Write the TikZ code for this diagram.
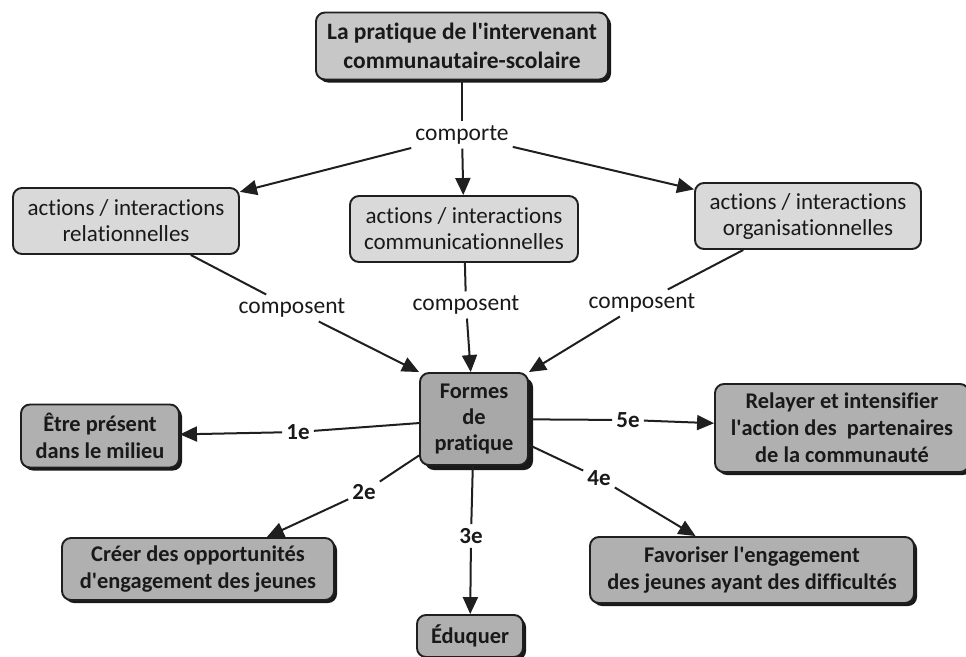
\documentclass[tikz,border=0pt]{standalone}
\usepackage{fontspec}
\setmainfont{Carlito}[Ligatures=NoCommon]
\usetikzlibrary{arrows.meta,shadows}
\newcommand{\apos}{\textquotesingle}
\begin{document}
\begin{tikzpicture}[x=1pt,y=-1pt,
  base/.style={draw=black!88, line width=1.9pt, rounded corners=9pt, align=center, inner sep=2pt, text=black!90, font=\fontsize{23}{26}\selectfont},
  lvltwo/.style={base, fill=black!15},
  lvltop/.style={base, fill=black!22, font=\fontsize{23.5}{29}\selectfont\bfseries,
    drop shadow={shadow xshift=3pt, shadow yshift=-3pt, fill=black!90, opacity=1}},
  lvlthree/.style={base, fill=black!31, font=\fontsize{22.4}{27}\selectfont\bfseries,
    drop shadow={shadow xshift=3pt, shadow yshift=-3pt, fill=black!90, opacity=1}},
  lvlcore/.style={base, fill=black!34, font=\fontsize{22.4}{26}\selectfont\bfseries,
    drop shadow={shadow xshift=5pt, shadow yshift=-5pt, fill=black!90, opacity=1}},
  lbl/.style={inner sep=4pt, text=black!90, font=\fontsize{23.5}{24}\selectfont},
  numlbl/.style={inner sep=4pt, text=black!90, font=\fontsize{23}{24}\selectfont\bfseries},
  ln/.style={line width=2pt, draw=black!88},
  arr/.style={line width=2pt, draw=black!88, fill=black!88, -{Triangle[length=17pt,width=15pt]}}
]
\useasboundingbox (0,0) rectangle (966,656);

% nodes
\node[lvltop, minimum width=292, minimum height=67] (top) at (462,46) {La pratique de l\apos intervenant\\communautaire-scolaire};
\node[lvltwo, minimum width=226, minimum height=66] (rel) at (126,221) {actions / interactions\\relationnelles};
\node[lvltwo, minimum width=228, minimum height=66] (com) at (464,229) {actions / interactions\\communicationnelles};
\node[lvltwo, minimum width=226, minimum height=66] (org) at (808,216) {actions / interactions\\organisationnelles};
\node[lvlcore, minimum width=108, minimum height=92] (formes) at (474,419) {Formes\\de\\pratique};
\node[lvlthree, minimum width=158, minimum height=63] (etre) at (100,436) {Être présent\\dans le milieu};
\node[lvlthree, minimum width=254, minimum height=88] (relayer) at (842,428) {Relayer et intensifier\\l\apos action des~ partenaires\\de la communauté};
\node[lvlthree, minimum width=272, minimum height=62] (creer) at (198,569) {Créer des opportunités\\d\apos engagement des jeunes};
\node[lvlthree, minimum width=324, minimum height=66] (favor) at (752,570) {Favoriser l\apos engagement\\des jeunes ayant des difficultés};
\node[lvlthree, minimum width=106, minimum height=42] (educ) at (470,636) {Éduquer};

% labels
\node[lbl] (comporte) at (462,135) {comporte};
\node[lbl] (compL) at (292,308) {composent};
\node[lbl] (compC) at (466,305) {composent};
\node[lbl] (compR) at (642,303) {composent};
\node[numlbl] (l1) at (298,432) {1e};
\node[numlbl] (l5) at (628,420) {5e};
\node[numlbl] (l2) at (364,492) {2e};
\node[numlbl] (l3) at (471,536) {3e};
\node[numlbl] (l4) at (599,478) {4e};

% connectors
\draw[ln] (top) -- (comporte);
\draw[arr] (comporte) -- (rel);
\draw[arr] (comporte) -- (com);
\draw[arr] (comporte) -- (org);

\draw[ln] (rel) -- (compL);
\draw[arr] (compL) -- (formes.north west);
\draw[ln] (com) -- (compC);
\draw[arr] (compC) -- (formes);
\draw[ln] (org) -- (compR);
\draw[arr] (compR) -- (formes.north east);

\draw[ln] (formes) -- (l1);
\draw[arr] (l1) -- (etre);
\draw[ln] (formes) -- (l5);
\draw[arr] (l5) -- (relayer);
\draw[ln] (formes) -- (l2);
\draw[arr] (l2) -- (creer);
\draw[ln] (formes) -- (l3);
\draw[arr] (l3) -- (educ);
\draw[ln] (formes) -- (l4);
\draw[arr] (l4) -- (favor);
\end{tikzpicture}
\end{document}
